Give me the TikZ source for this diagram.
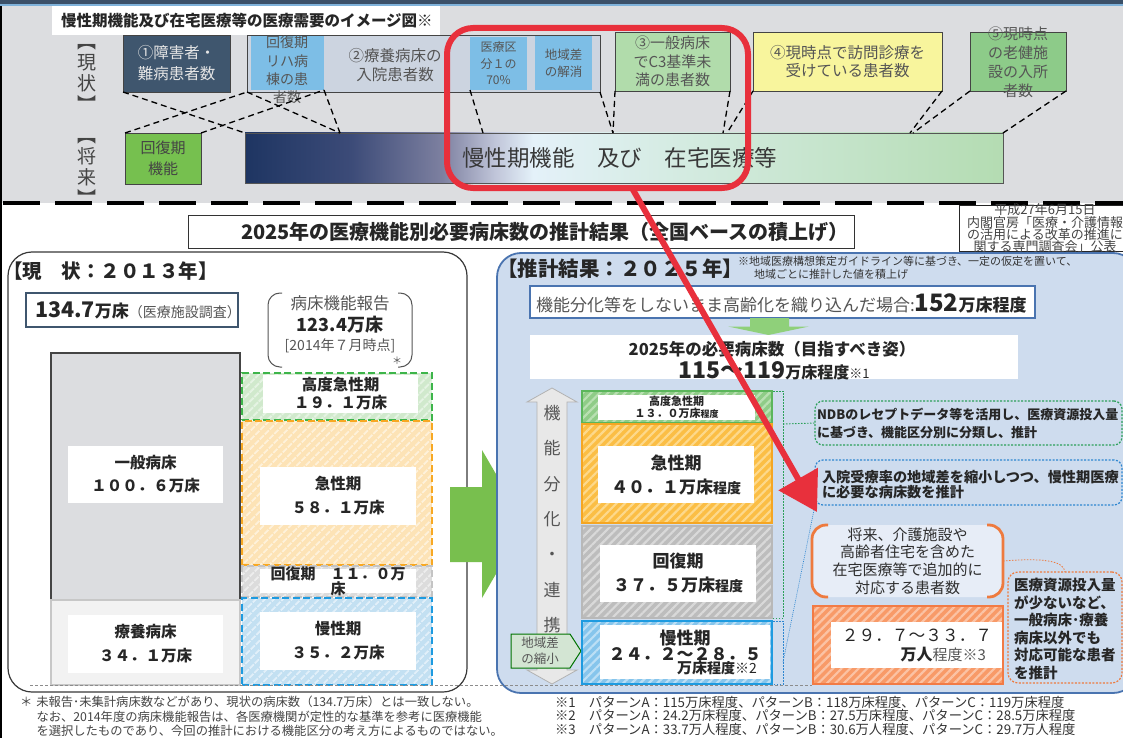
\documentclass[tikz,border=0pt]{standalone}
\usepackage{fontspec}
\setmainfont{Noto Sans CJK JP}
\usetikzlibrary{arrows.meta,patterns.meta}
\newcommand\myfs[2]{\fontsize{#1pt}{#2pt}\selectfont}
\definecolor{band}{HTML}{DCDDE0}
\definecolor{topdark}{HTML}{3B5068}
\definecolor{toplight}{HTML}{7FB2DA}
\definecolor{slate}{HTML}{3F566E}
\definecolor{boxtwo}{HTML}{CCD4E0}
\definecolor{ltblue}{HTML}{7DBEE6}
\definecolor{grnthree}{HTML}{B1DCAB}
\definecolor{yelfour}{HTML}{F8F59D}
\definecolor{grnfive}{HTML}{8DCB89}
\definecolor{grnK}{HTML}{76C04F}
\definecolor{redR}{HTML}{E8303C}
\definecolor{tgray}{HTML}{555555}
\definecolor{tdark}{HTML}{262626}
\definecolor{lineD}{HTML}{444444}
\definecolor{panelB}{HTML}{CEDCEE}
\definecolor{panelBd}{HTML}{4A74B0}
\definecolor{bigG}{HTML}{78BF4E}
\definecolor{smallG}{HTML}{8FD07A}
\definecolor{bA}{RGB}{30,53,98}
\definecolor{bB}{RGB}{60,75,120}
\definecolor{bC}{RGB}{125,128,160}
\definecolor{bD}{RGB}{192,197,217}
\definecolor{bE}{RGB}{228,241,249}
\definecolor{bF}{RGB}{214,236,228}
\definecolor{bG}{RGB}{180,220,178}
\definecolor{lgF}{HTML}{D0E9CC}\definecolor{lgS}{HTML}{E6F4E4}\definecolor{lgB}{HTML}{3DB54A}
\definecolor{loF}{HTML}{FDE3B6}\definecolor{loS}{HTML}{FEF1DA}\definecolor{loB}{HTML}{F7A823}
\definecolor{lrF}{HTML}{DCDCDC}\definecolor{lrS}{HTML}{EDEDED}\definecolor{lrB}{HTML}{C4C4C4}
\definecolor{lbF}{HTML}{C3E0F2}\definecolor{lbS}{HTML}{E1EFF9}\definecolor{lbB}{HTML}{1E9BE0}
\definecolor{rgF}{HTML}{8FCC87}\definecolor{rgS}{HTML}{B9E0B2}\definecolor{rgB}{HTML}{5BB65B}
\definecolor{roF}{HTML}{FBBE45}\definecolor{roS}{HTML}{FDD98C}\definecolor{roB}{HTML}{F5A623}
\definecolor{rrF}{HTML}{BDBDBD}\definecolor{rrS}{HTML}{D9D9D9}\definecolor{rrB}{HTML}{B8B8B8}
\definecolor{rbF}{HTML}{86C5EC}\definecolor{rbS}{HTML}{BCDFF5}\definecolor{rbB}{HTML}{1E9BE0}
\definecolor{orF}{HTML}{F89A68}\definecolor{orS}{HTML}{FBC3A5}\definecolor{orB}{HTML}{F27B45}
\definecolor{ndbG}{HTML}{2CA05A}
\definecolor{nyB}{HTML}{2E86D0}
\definecolor{orC}{HTML}{EE7A3E}
\definecolor{obrF}{HTML}{E7EDF7}
\pgfdeclarehorizontalshading{barshade}{100bp}{color(0bp)=(bA); color(25bp)=(bA); color(32bp)=(bB); color(38bp)=(bC); color(41.5bp)=(bD); color(44bp)=(bE); color(52.5bp)=(bF); color(75bp)=(bG); color(100bp)=(bG)}
\begin{document}
\begin{tikzpicture}[x=1pt,y=-1pt,
  every node/.style={inner sep=0pt,outer sep=0pt,align=center},
  nw/.style={anchor=north west},
  conn/.style={black,line width=1.3pt,dash pattern=on 6pt off 4pt},
  lhatch/.style n args={3}{preaction={fill=#1},pattern={Lines[angle=45,distance=6.5pt,line width=2.2pt]},pattern color=#2,draw=#3,line width=2pt,dash pattern=on 7pt off 3.5pt},
  rhatch/.style n args={3}{preaction={fill=#1},pattern={Lines[angle=45,distance=6pt,line width=2.2pt]},pattern color=#2,draw=#3,line width=1.5pt},
  inbox/.style={fill=white,anchor=north west},
  gbr/.style={ndbG,line width=0.9pt,dash pattern=on 1.5pt off 1.5pt},
  bbr/.style={nyB,line width=0.9pt,dash pattern=on 1.5pt off 1.5pt}]
\useasboundingbox (0,0) rectangle (1123,738);
\clip (0,0) rectangle (1123,738);
\fill[white] (0,0) rectangle (1123,738);
% ---------------- top band ----------------
\fill[band] (0,0) rectangle (1123,203);
\fill[topdark] (0,0) rectangle (1123,4.5);
\fill[toplight] (0,4.5) rectangle (1123,6.5);
\node[fill=white,nw,minimum width=388,minimum height=29] (ttl) at (52,6.5) {};
\node[anchor=west,font=\bfseries\myfs{15.5}{18},text=tdark] (ttltxt) at (61,21) {慢性期機能及び在宅医療等の医療需要のイメージ図※};
\node[font=\myfs{19}{21},text=lineD] (gen) at (87,78) {︻\\現\\状\\︼};
\node[font=\myfs{19}{21},text=lineD] (sho) at (87,172) {︻\\将\\来\\︼};

\node[draw=lineD,fill=slate,nw,minimum width=107,minimum height=57,font=\myfs{15.5}{21},text=white!90!black] (n1) at (123,35) {①障害者・\\難病患者数};
\node[draw=lineD,fill=boxtwo,nw,minimum width=353,minimum height=57] (bxtwo) at (247,35) {};
\node[fill=ltblue,nw,minimum width=73,minimum height=54] (rihab) at (251,36) {};
\node[font=\myfs{14}{18.3},text=tgray] (rihabt) at (287,70) {回復期\\リハ病\\棟の患\\者数};
\node[font=\myfs{15.5}{19},text=tgray] (ryo) at (395,65) {②療養病床の\\入院患者数};
\node[fill=ltblue,nw,minimum width=57,minimum height=53,font=\myfs{12}{16.5},text=tgray] (iryo) at (470,37) {医療区\\分１の\\70\%};
\node[fill=ltblue,nw,minimum width=57,minimum height=54,font=\myfs{12.5}{17},text=tgray] (chiiki) at (535,36) {地域差\\の解消};
\node[draw=lineD,fill=grnthree,nw,minimum width=115,minimum height=59,font=\myfs{15}{18.5},text=tgray] (n3) at (615,32) {③一般病床\\でC3基準未\\満の患者数};
\node[draw=lineD,fill=yelfour,nw,minimum width=189,minimum height=59,font=\myfs{15.5}{18},text=tgray] (n4) at (753,32) {④現時点で訪問診療を\\受けている患者数};
\node[draw=lineD,fill=grnfive,nw,minimum width=96,minimum height=59] (n5) at (970,32) {};
\node[font=\myfs{15}{19},text=tgray] (n5t) at (1018,62) {⑤現時点\\の老健施\\設の入所\\者数};

\node[draw=lineD,fill=grnK,nw,minimum width=76,minimum height=51,font=\myfs{15}{21},text=lineD] (kfk) at (125,133) {回復期\\機能};
\node[draw=tgray,shade,shading=barshade,nw,minimum width=758,minimum height=50] (bar) at (245,133) {};
\node[anchor=west,font=\myfs{22.5}{26},text=black!78] (bartxt) at (462,158) {慢性期機能　及び　在宅医療等};

\coordinate (p1) at (340,133);
\coordinate (p2) at (483,133);
\coordinate (p3) at (613,133);
\coordinate (p4) at (723,133);
\coordinate (p5) at (727,133);
\coordinate (p6) at (910,133);
\coordinate (p7) at (913,133);
\draw[conn] (kfk.north west) -- (bxtwo.south west);
\draw[conn] (kfk.north east) -- (rihab.south east);
\draw[conn] (n1.south west) -- (bar.north west);
\draw[conn] (bxtwo.south west) -- (p1);
\draw[conn] (rihab.south east) -- (p1);
\draw[conn] (iryo.south west) -- (p2);
\draw[conn] (bxtwo.south east) -- (p3);
\draw[conn] (n3.south west) -- (p3);
\draw[conn] (n3.south east) -- (p4);
\draw[conn] (n4.south west) -- (p5);
\draw[conn] (n4.south east) -- (p6);
\draw[conn] (n5.south west) -- (p7);
\draw[conn] (n5.south east) -- (bar.north east);

\draw[line width=4pt,dash pattern=on 37pt off 15pt,dash phase=49pt] (0,202.5) -- (1123,202.5);

% ---------------- lower title ----------------
\node[draw=black!80,line width=1pt,fill=white,nw,minimum width=666,minimum height=33] (ttl2) at (188,215) {};
\node[font=\bfseries\myfs{20}{22},text=tdark] (ttl2t) at (545,232) {2025年の医療機能別必要病床数の推計結果（全国ベースの積上げ）};
\node[draw=black!85,line width=1pt,fill=white,nw,minimum width=180,minimum height=46] (date) at (959,205) {};
\node[font=\myfs{13}{12.3},text=lineD] (datet) at (1045,228.5) {平成27年6月15日\\内閣官房「医療・介護情報\\の活用による改革の推進に\\関する専門調査会」公表};

% ---------------- left panel ----------------
\node[draw=black!78,line width=1.2pt,fill=white,rounded corners=24,nw,minimum width=459,minimum height=440] (lp) at (8,252) {};
\node[anchor=west,font=\bfseries\myfs{19.5}{22},text=tdark] (lpt) at (3,271) {【現　状：２０１３年】};
\node[draw=slate,line width=1.2pt,fill=white,nw,minimum width=212,minimum height=34] (b134) at (26,293) {};
\node[anchor=west,text=tdark] (b134t) at (35,310.5) {{\bfseries\myfs{21.5}{24}134.7}{\bfseries\myfs{17}{20}万床}{\myfs{14}{16}\color{tgray}（医療施設調査）}};
\draw[tgray,line width=1pt,rounded corners=12] (282,293) -- (268,293) -- (268,367) -- (282,367);
\draw[tgray,line width=1pt,rounded corners=12] (398,293) -- (412,293) -- (412,367) -- (398,367);
\node[font=\myfs{16.5}{20},text=tgray] (bfk1) at (340,303) {病床機能報告};
\node[font=\bfseries\myfs{18}{20},text=tdark] (bfk2) at (340,325) {123.4万床};
\node[font=\myfs{14}{16},text=tgray] (bfk3) at (340,346) {[2014年７月時点]};
\node[font=\myfs{10}{12},text=tgray] (ast) at (397,361) {＊};

\node[draw=lineD,line width=1.2pt,fill=band,nw,minimum width=189,minimum height=247] (ippan) at (51,353) {};
\node[inbox,minimum width=155,minimum height=57,font=\bfseries\myfs{15.5}{23},text=tdark] (ippant) at (68,446) {一般病床\\１００．６万床};
\node[draw=black!22,line width=1.2pt,fill=black!5,nw,minimum width=189,minimum height=85] (ryoyo) at (51,600) {};
\node[inbox,minimum width=155,minimum height=58,font=\bfseries\myfs{15.5}{24},text=tdark] (ryoyot) at (68,615) {療養病床\\３４．１万床};

\node[lhatch={lgF}{lgS}{lgB},nw,minimum width=190,minimum height=47] (kdL) at (242,373) {};
\node[inbox,minimum width=155,minimum height=38,font=\bfseries\myfs{15.5}{18},text=tdark] (kdLt) at (263,375) {高度急性期\\１９．１万床};
\node[lhatch={loF}{loS}{loB},nw,minimum width=190,minimum height=144] (kyL) at (242,421) {};
\node[inbox,minimum width=156,minimum height=58,font=\bfseries\myfs{15.5}{24},text=tdark] (kyLt) at (260,467) {急性期\\５８．１万床};
\node[lhatch={lrF}{lrS}{lrB},nw,minimum width=190,minimum height=31] (kaL) at (242,566) {};
\node[inbox,minimum width=156,minimum height=24] (kaLb) at (260,569) {};
\node[font=\bfseries\myfs{15}{12},text=tdark] (kaLt) at (338,581) {回復期　１１．０万\\床};
\node[lhatch={lbF}{lbS}{lbB},nw,minimum width=190,minimum height=87] (maL) at (242,598) {};
\node[inbox,minimum width=156,minimum height=58,font=\bfseries\myfs{15.5}{24},text=tdark] (maLt) at (260,612) {慢性期\\３５．２万床};

\fill[bigG] (450,487) -- (482,487) -- (482,450) -- (525,524) -- (482,598) -- (482,562) -- (450,562) -- cycle;

\node[anchor=north west,align=left,font=\myfs{12.3}{14.5},text=lineD] (fn1) at (20,696) {＊\hspace{4pt}未報告･未集計病床数などがあり、現状の病床数（134.7万床）とは一致しない。\\\hspace{16.5pt}なお、2014年度の病床機能報告は、各医療機関が定性的な基準を参考に医療機能\\\hspace{16.5pt}を選択したものであり、今回の推計における機能区分の考え方によるものではない。};

% ---------------- right panel ----------------
\node[draw=panelBd,line width=1.8pt,fill=panelB,rounded corners=24,nw,minimum width=640,minimum height=440] (rp) at (497,253) {};
\node[anchor=west,font=\bfseries\myfs{20.5}{24},text=tdark] (rpt) at (497,269) {【推計結果：２０２５年】};
\node[anchor=north west,align=left,font=\myfs{11}{13.5},text=black!80] (note) at (738,256) {※地域医療構想策定ガイドライン等に基づき、一定の仮定を置いて、\\\hspace{16pt}地域ごとに推計した値を積上げ};
\node[draw=panelBd,line width=1.2pt,fill=white,nw,minimum width=505,minimum height=32] (b152) at (530,286) {};
\node[anchor=west,text=tgray] (b152t) at (536,303) {{\myfs{17}{20}機能分化等をしないまま高齢化を織り込んだ場合:}{\bfseries\color{tdark}\myfs{24}{26}152}{\bfseries\color{tdark}\myfs{17}{20}万床程度}};
\fill[smallG] (750,318) -- (789,318) -- (789,326.5) -- (809,326.5) -- (768.5,335) -- (728,326.5) -- (750,326.5) -- cycle;
\node[draw=panelBd!85!black,double=white,double distance=1.2pt,line width=0.8pt,fill=white,nw,minimum width=486,minimum height=42] (need) at (531,336) {};
\node[font=\bfseries\myfs{16.5}{20},text=tdark] (need1) at (772,349.5) {2025年の必要病床数（目指すべき姿）};
\node[text=tdark] (need2) at (774,370.5) {{\bfseries\myfs{23}{25}115～119}{\bfseries\myfs{16}{20}万床程度}{\myfs{13}{16}※1}};

\draw[fill=black!9,draw=black!30,line width=0.8pt] (552,388) -- (577,402) -- (567,402) -- (567,670) -- (577,670) -- (552,684) -- (527,670) -- (537,670) -- (537,402) -- (527,402) -- cycle;
\node[font=\myfs{17}{35.3},text=tgray] (renkei) at (552,519) {機\\能\\分\\化\\・\\連\\携};
\draw[fill=green!8!white!90!black!100,draw=green!45!black,line width=1pt] (511,634) -- (570,634) -- (581,651) -- (570,668) -- (511,668) -- cycle;
\node[font=\myfs{12.5}{16},text=tgray] (shuku) at (540,651) {地域差\\の縮小};

\node[rhatch={rgF}{rgS}{rgB},nw,minimum width=190,minimum height=32] (kdR) at (582,391) {};
\node[inbox,minimum width=157,minimum height=25] (kdRb) at (598,395) {};
\node[font=\bfseries\myfs{11}{11.5},text=tdark] (kdRt) at (676.5,407.5) {高度急性期\\１３．０万床{\myfs{9}{11}程度}};
\node[rhatch={roF}{roS}{roB},nw,minimum width=190,minimum height=99] (kyR) at (582,424) {};
\node[inbox,minimum width=156,minimum height=57,font=\bfseries\myfs{17}{24},text=tdark] (kyRt) at (598,446) {急性期\\４０．１万床{\myfs{14}{16}程度}};
\node[rhatch={rrF}{rrS}{rrB},nw,minimum width=190,minimum height=92] (kaR) at (582,526) {};
\node[inbox,minimum width=156,minimum height=57,font=\bfseries\myfs{17}{24},text=tdark] (kaRt) at (600,545) {回復期\\３７．５万床{\myfs{14}{16}程度}};
\node[rhatch={rbF}{rbS}{rbB},nw,minimum width=190,minimum height=63] (maR) at (582,621) {};
\node[inbox,minimum width=170,minimum height=54] (maRb) at (600,625) {};
\node[font=\bfseries\myfs{17}{16},text=tdark] (maRt) at (685,645) {慢性期\\２４．２～２８．５};
\node[anchor=east,text=tdark] (maRt2) at (757,668) {{\bfseries\myfs{15}{16}万床}{\bfseries\myfs{14}{16}程度}{\myfs{14}{16}※2}};

\draw[gbr] (773,391) -- (783,391) -- (783,618) -- (773,618);
\draw[bbr] (773,621) -- (783,621) -- (783,684) -- (773,684);
\coordinate (gmid) at (783,424);
\coordinate (bmid) at (783,662);

\node[draw=ndbG,line width=1.2pt,dash pattern=on 2pt off 1.5pt,rounded corners=8,nw,minimum width=307,minimum height=44] (ndb) at (815,401) {};
\node[anchor=west,align=left,font=\bfseries\myfs{13}{18},text=tdark] (ndbt) at (817,423.5) {NDBのレセプトデータ等を活用し、医療資源投入量\\に基づき、機能区分別に分類し、推計};
\node[draw=nyB,line width=1.2pt,dash pattern=on 2pt off 1.5pt,rounded corners=8,nw,minimum width=307,minimum height=45] (nyuin) at (815,460) {};
\node[anchor=west,align=left,font=\bfseries\myfs{14.2}{15.5},text=tdark] (nyuint) at (822,484.5) {入院受療率の地域差を縮小しつつ、慢性期医療\\に必要な病床数を推計};
\draw[gbr] (gmid) -- (ndb.west);
\draw[bbr,line width=0.6pt,dash pattern=on 1pt off 1pt] (bmid) -- (nyuin.south west);

\node[fill=obrF,rounded corners=14,nw,minimum width=191,minimum height=72,font=\myfs{15}{17.7},text=black!82] (obr) at (812,525) {将来、介護施設や\\高齢者住宅を含めた\\在宅医療等で追加的に\\対応する患者数};
\draw[orC,line width=2.8pt,rounded corners=14] (828,525) -- (812,525) -- (812,597) -- (828,597);
\draw[orC,line width=2.8pt,rounded corners=14] (987,525) -- (1003,525) -- (1003,597) -- (987,597);

\node[rhatch={orF}{orS}{orB},nw,minimum width=190,minimum height=78] (orh) at (813,606) {};
\node[inbox,minimum width=171,minimum height=46] (orhb) at (831,622) {};
\node[font=\myfs{16.7}{19},text=tdark] (orht) at (917,635) {２９．７～３３．７};
\node[anchor=east,text=tdark] (orht2) at (986,655) {{\bfseries\myfs{16}{19}万人}{\myfs{15}{19}\color{tgray}程度※3}};

\node[draw=orC,line width=1.2pt,dash pattern=on 2pt off 1.5pt,rounded corners=10,nw,minimum width=114,minimum height=111] (odot) at (1008,572) {};
\node[anchor=west,align=left,font=\bfseries\myfs{14.5}{17.6},text=tdark] (odott) at (1014,629) {医療資源投入量\\が少ないなど、\\一般病床･療養\\病床以外でも\\対応可能な患者\\を推計};
\draw[orC,line width=0.8pt,dash pattern=on 1.5pt off 1.5pt] (obr.east) .. controls (1040,558) and (1064,560) .. (odot.north);

\draw[black!45,line width=0.8pt,dash pattern=on 3pt off 2pt] (30,685) -- (812,685);

\node[anchor=north west,align=left,font=\myfs{13.3}{13.5},text=black!80] (fn2) at (555,696) {※1　パターンA：115万床程度、パターンB：118万床程度、パターンC：119万床程度\\※2　パターンA：24.2万床程度、パターンB：27.5万床程度、パターンC：28.5万床程度\\※3　パターンA：33.7万人程度、パターンB：30.6万人程度、パターンC：29.7万人程度};

\draw[black,line width=2.2pt] (1.1,6.5) -- (1.1,738);

% ---------------- red highlight ----------------
\node[draw=redR,line width=6pt,rounded corners=26,nw,minimum width=301,minimum height=160] (redbox) at (447,28) {};
\coordinate (rs) at (632,188);
\coordinate (rt) at (817,512);
\draw[redR,line width=6pt,-{Triangle[width=44pt,length=38pt]}] (rs) -- (rt);
\end{tikzpicture}
\end{document}
